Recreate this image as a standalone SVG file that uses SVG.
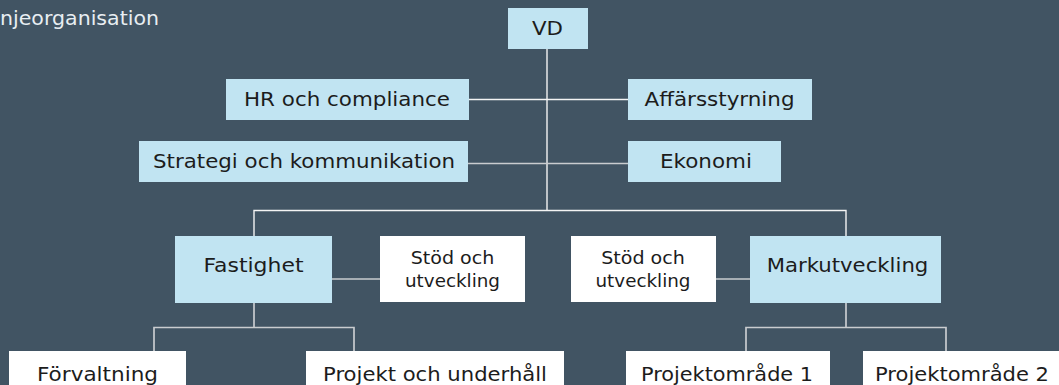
<svg xmlns="http://www.w3.org/2000/svg" width="1059" height="385" viewBox="0 0 1059 385">
<style>
.bg{fill:#415463}
.blue{fill:#c1e4f2}
.white{fill:#ffffff}
text{font-family:"DejaVu Sans","Liberation Sans",sans-serif;font-size:20px;fill:#1c1c1c;text-anchor:middle}
.small{font-size:18px}
.title{fill:#e8eef2;text-anchor:start}
.l1{stroke:#f4f4f4;stroke-width:1.4;fill:none}
.l2{stroke:#c9cccf;stroke-width:1.7;fill:none}
</style>
<rect class="bg" x="0" y="0" width="1059" height="385"/>
<text class="title" x="0" y="25" textLength="159" lengthAdjust="spacingAndGlyphs">njeorganisation</text>
<g id="connectors">
<path class="l1" d="M547 49V210.5"/>
<path class="l1" d="M469 99.5H628"/>
<path class="l2" d="M468 163.5H628"/>
<path class="l1" d="M254 236V210.5H846V236"/>
<path class="l2" d="M332 279H380"/>
<path class="l2" d="M716 279H750"/>
<path class="l2" d="M254 303V327.5M154 351V327.5H354V351"/>
<path class="l2" d="M846 303V327.5M746 351V327.5H946V351"/>
</g>
<g id="vd"><rect class="blue" x="508" y="8" width="80" height="41"/><text x="547.5" y="35" textLength="31" lengthAdjust="spacingAndGlyphs">VD</text></g>
<g id="hr"><rect class="blue" x="226" y="79" width="243" height="41"/><text x="347" y="106" textLength="206" lengthAdjust="spacingAndGlyphs">HR och compliance</text></g>
<g id="affarsstyrning"><rect class="blue" x="628" y="79" width="184" height="41"/><text x="719.5" y="106" textLength="150" lengthAdjust="spacingAndGlyphs">Affärsstyrning</text></g>
<g id="strategi"><rect class="blue" x="139" y="141" width="329" height="41"/><text x="304" y="168" textLength="302" lengthAdjust="spacingAndGlyphs">Strategi och kommunikation</text></g>
<g id="ekonomi"><rect class="blue" x="628" y="141" width="153" height="41"/><text x="706" y="168" textLength="92" lengthAdjust="spacingAndGlyphs">Ekonomi</text></g>
<g id="fastighet"><rect class="blue" x="175" y="236" width="157" height="67"/><text x="253.5" y="272" textLength="100" lengthAdjust="spacingAndGlyphs">Fastighet</text></g>
<g id="stod1"><rect class="white" x="380" y="236" width="145" height="66"/><text class="small" x="452.5" y="264" textLength="83.5" lengthAdjust="spacingAndGlyphs">Stöd och</text><text class="small" x="452.5" y="287" textLength="95" lengthAdjust="spacingAndGlyphs">utveckling</text></g>
<g id="stod2"><rect class="white" x="571" y="236" width="145" height="66"/><text class="small" x="643" y="264" textLength="83.5" lengthAdjust="spacingAndGlyphs">Stöd och</text><text class="small" x="643" y="287" textLength="95" lengthAdjust="spacingAndGlyphs">utveckling</text></g>
<g id="markutveckling"><rect class="blue" x="750" y="236" width="191" height="67"/><text x="847.5" y="272" textLength="161.6" lengthAdjust="spacingAndGlyphs">Markutveckling</text></g>
<g id="forvaltning"><rect class="white" x="9" y="351" width="177" height="40"/><text x="97.5" y="381" textLength="121" lengthAdjust="spacingAndGlyphs">Förvaltning</text></g>
<g id="projekt"><rect class="white" x="306" y="351" width="258" height="40"/><text x="435" y="381" textLength="224" lengthAdjust="spacingAndGlyphs">Projekt och underhåll</text></g>
<g id="po1"><rect class="white" x="626" y="351" width="204" height="40"/><text x="727" y="381" textLength="172" lengthAdjust="spacingAndGlyphs">Projektområde 1</text></g>
<g id="po2"><rect class="white" x="863" y="351" width="200" height="40"/><text x="962" y="381" textLength="174" lengthAdjust="spacingAndGlyphs">Projektområde 2</text></g>
</svg>
